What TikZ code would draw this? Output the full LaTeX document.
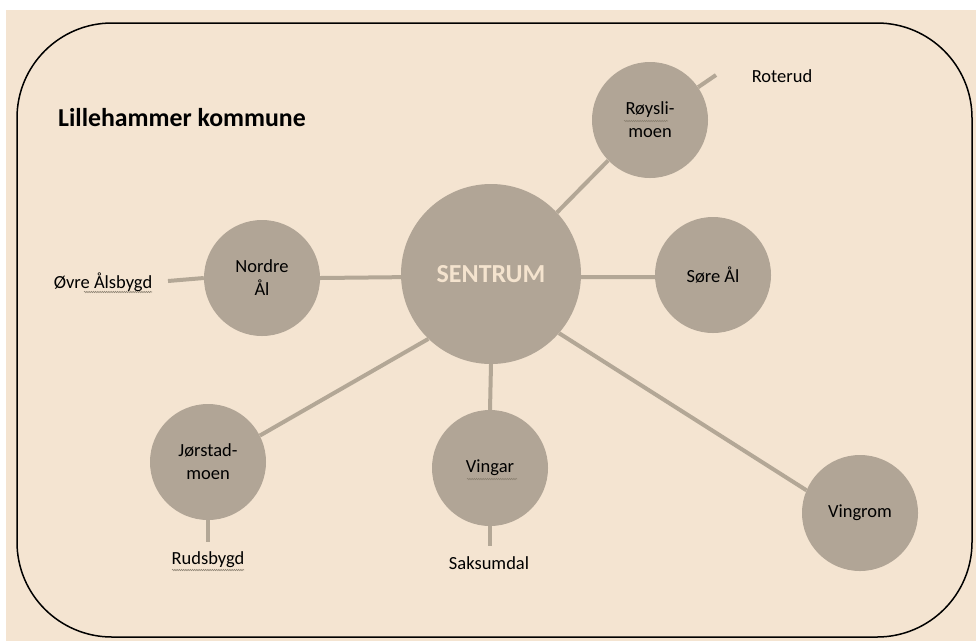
\documentclass[tikz,border=0pt]{standalone}
\usepackage{fontspec}
\setmainfont{Carlito}
\usetikzlibrary{decorations.pathmorphing}
\definecolor{bgbeige}{HTML}{F4E4D1}
\definecolor{circfill}{HTML}{B1A596}
\definecolor{linecol}{HTML}{B3A796}
\definecolor{sentext}{HTML}{F4E3CE}
\definecolor{squig}{HTML}{8A8070}
\tikzset{
  place/.style={circle, fill=circfill, draw=none, minimum size=116pt, inner sep=0pt, align=center, font=\fontsize{18.5}{23}\selectfont},
  bigplace/.style={circle, fill=circfill, draw=none, minimum size=180pt, inner sep=0pt, font=\fontsize{26}{30}\bfseries\selectfont, text=sentext},
  label/.style={font=\fontsize{18.5}{23}\selectfont, inner sep=0pt},
  conn/.style={draw=linecol, line width=4pt},
  squiggle/.style={draw=squig, line width=0.6pt, decorate, decoration={snake, segment length=2.2pt, amplitude=0.6pt}},
  frame/.style={draw=black, line width=1.5pt, rounded corners=95pt}
}
\begin{document}
\begin{tikzpicture}[x=1pt,y=-1pt]
\useasboundingbox (0,0) rectangle (976,641);
\fill[white] (0,0) rectangle (976,641);
\fill[bgbeige] (6,10) rectangle (976,641);
\draw[frame] (17,23) rectangle (972,637);
\node[font=\fontsize{25.8}{30}\bfseries\selectfont, anchor=west, inner sep=0pt] (title) at (58,118) {Lillehammer kommune};

\node[bigplace] (sen) at (491,274) {SENTRUM};
\node[place] (roy) at (650,120) {Røysli-\\moen};
\node[place] (nor) at (262,278) {Nordre\\Ål};
\node[place] (sor) at (713,275) {Søre Ål};
\node[place] (jor) at (208,462) {Jørstad-\\moen};
\node[place] (vin) at (490,468) {Vingar};
\node[place] (vgm) at (860,513) {Vingrom};

\node[label] (roterud) at (782,76) {Roterud};
\node[label] (ovre) at (103,282) {Øvre Ålsbygd};
\node[label] (rudsbygd) at (208,560) {Rudsbygd};
\node[label] (saksumdal) at (489,563) {Saksumdal};

\coordinate (rotend) at (716,75);
\coordinate (ovreend) at (168,281);
\coordinate (rudend) at (208,542);
\coordinate (sakend) at (490,546);

\draw[conn] (sen.43) -- (roy.224);
\draw[conn] (roy) -- (rotend);
\draw[conn] (nor.east) -- (sen.182);
\draw[conn] (nor.west) -- (ovreend);
\draw[conn] (sen.358) -- (sor.182);
\draw[conn] (sen.226) -- (jor.27);
\draw[conn] (jor.south) -- (rudend);
\draw[conn] (sen.south) -- (vin.north);
\draw[conn] (vin.south) -- (sakend);
\draw[conn] (sen.319) -- (vgm.157);

\draw[squiggle] (624,121) -- (668,121);
\draw[squiggle] (84,292) -- (152,292);
\draw[squiggle] (467,479) -- (517,479);
\draw[squiggle] (172,570) -- (244,570);
\end{tikzpicture}
\end{document}
